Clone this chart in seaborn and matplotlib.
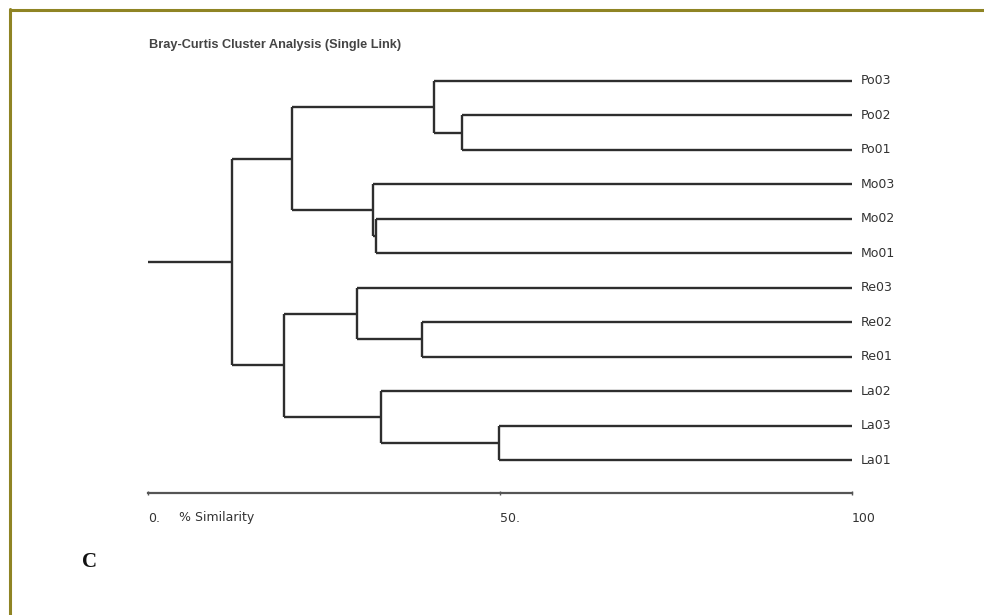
import matplotlib
matplotlib.use("Agg")
import matplotlib.pyplot as plt
from matplotlib.lines import Line2D
import numpy as np
import pandas as pd
import seaborn as sns

# Samples in dendrogram order (top to bottom)
leaves = ["Po03", "Po02", "Po01", "Mo03", "Mo02", "Mo01",
          "Re03", "Re02", "Re01", "La02", "La03", "La01"]

# Single-link merges: node ids 0..11 are samples, 12.. are clusters
merge_left = [1, 0, 4, 3, 13, 7, 6, 10, 9, 18, 16]
merge_right = [2, 12, 5, 14, 15, 8, 17, 11, 19, 20, 21]
merge_similarity = [44.6, 40.6, 32.4, 32.0, 20.5, 38.9, 29.7, 49.9, 33.1, 19.3, 11.9]

scale_ticks = [0, 50, 100]
scale_labels = ["0.", "50.", "100"]

sns.set_theme(style="white")
plt.rcParams["font.family"] = ["DejaVu Sans"]

# Build dendrogram segments from the merge table
node_x = {i: 100.0 for i in range(len(leaves))}
node_y = {i: float(i) for i in range(len(leaves))}
rows = []
seg = 0
for k, (a, b, s) in enumerate(zip(merge_left, merge_right, merge_similarity)):
    nid = len(leaves) + k
    for c in (a, b):
        rows.append((seg, s, node_y[c])); rows.append((seg, node_x[c], node_y[c])); seg += 1
    rows.append((seg, s, node_y[a])); rows.append((seg, s, node_y[b])); seg += 1
    node_x[nid] = s
    node_y[nid] = (node_y[a] + node_y[b]) / 2
root = len(leaves) + len(merge_left) - 1
rows.append((seg, 0.0, node_y[root])); rows.append((seg, node_x[root], node_y[root]))
segs = pd.DataFrame(rows, columns=["seg", "similarity", "pos"])

fig = plt.figure(figsize=(9.84, 6.15), dpi=100)
W, H = 984, 615
px_top, px_bot = 40, 493
spacing = (460 - 81) / 11
ax = fig.add_axes([148 / W, 1 - px_bot / H, 704 / W, (px_bot - px_top) / H])

sns.lineplot(data=segs, x="similarity", y="pos", units="seg", estimator=None,
             sort=False, color="#2e2e2e", linewidth=1.7, ax=ax, legend=False)
for ln in ax.get_lines():
    ln.set_clip_on(False)
    ln.set_solid_capstyle("butt")

ax.set_xlim(0, 100)
ax.set_ylim(11 + (px_bot - 460) / spacing, -(81 - px_top) / spacing)
for side in ("top", "right", "left"):
    ax.spines[side].set_visible(False)
ax.spines["bottom"].set_color("#555555")
ax.spines["bottom"].set_linewidth(1.6)
ax.set_yticks([])
ax.set_xticks(scale_ticks)
ax.set_xticklabels(scale_labels)
ax.tick_params(axis="x", direction="inout", length=3, width=1, color="#555555",
               labelsize=9, labelcolor="#333333", pad=12, bottom=True)
for t in ax.get_xticklabels():
    t.set_horizontalalignment("left")
ax.set_xlabel("")
ax.set_ylabel("")

# Sample labels at the tips
for i, name in enumerate(leaves):
    ax.text(101.3, i, name, ha="left", va="center", fontsize=9, color="#333333",
            clip_on=False)

# Scale caption next to the zero tick
fig.text(179 / W, 1 - 517 / H, "% Similarity", ha="left", va="center",
         fontsize=9, color="#333333")

fig.text(149 / W, 1 - 45 / H, "Bray-Curtis Cluster Analysis (Single Link)",
         ha="left", va="center", fontsize=9.2, fontweight="bold",
         family="Liberation Sans", color="#444444")
fig.text(82 / W, 1 - 562 / H, "C", ha="left", va="center", fontsize=15,
         fontweight="bold", family="Liberation Serif", color="#111111")

# Frame edges
border = "#8f8424"
fig.add_artist(Line2D([9.5 / W, 1], [1 - 9.5 / H, 1 - 9.5 / H], transform=fig.transFigure,
                      color=border, linewidth=2.2))
fig.add_artist(Line2D([9.5 / W, 9.5 / W], [0, 1 - 8.5 / H], transform=fig.transFigure,
                      color=border, linewidth=2.2))

fig.savefig("out.png", dpi=100, facecolor="white")
